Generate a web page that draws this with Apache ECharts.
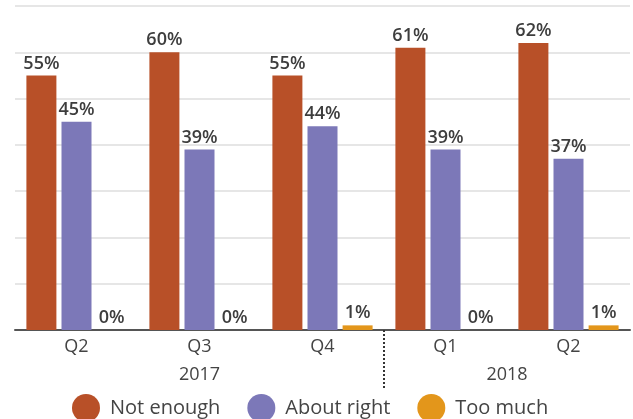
<!DOCTYPE html>
<html>
<head>
<meta charset="utf-8">
<script src="https://cdn.jsdelivr.net/npm/echarts@6/dist/echarts.min.js"></script>
<style>
  html, body { margin: 0; padding: 0; background: #fff; }
  #main { width: 633px; height: 419px; }
</style>
</head>
<body>
<div id="main"></div>
<script>
// 数据
var quarters = ['Q2', 'Q3', 'Q4', 'Q1', 'Q2'];
var yearSlots = ['', '', '', '2017', '', '', '', '', '2018', '', ''];
var notEnough = [55, 60, 55, 61, 62];
var aboutRight = [45, 39, 44, 39, 37];
var tooMuch = [0, 0, 1, 0, 1];

var myChart = echarts.init(document.getElementById('main'));

var labelStyle = {
    show: true,
    position: 'top',
    distance: 3,
    formatter: '{c}%',
    color: '#3d3d3d',
    fontSize: 18,
    fontWeight: 600,
    fontFamily: 'Open Sans'
};

var option = {
    animation: false,
    color: ['#b85028', '#7c78b8', '#e3961b'],
    textStyle: { fontFamily: 'Open Sans' },
    grid: { left: 15, right: 0, top: 6, bottom: 89 },
    legend: {
        left: 67,
        top: 389,
        icon: 'circle',
        itemWidth: 28,
        itemHeight: 28,
        itemGap: 27,
        textStyle: { color: '#444', fontSize: 20, padding: [0, 0, 0, 5] },
        data: ['Not enough', 'About right', 'Too much']
    },
    xAxis: [
        {
            type: 'category',
            position: 'bottom',
            data: quarters,
            axisLine: { lineStyle: { color: '#555', width: 2 } },
            axisTick: { show: false },
            axisLabel: { color: '#444', fontSize: 18, margin: 8 }
        },
        {
            type: 'category',
            position: 'bottom',
            boundaryGap: false,
            data: yearSlots,
            axisLine: { show: false },
            axisTick: {
                show: true,
                length: 58,
                interval: function (index) { return index === 6; },
                lineStyle: { color: '#333', width: 2, type: 'dotted' }
            },
            axisLabel: { color: '#444', fontSize: 18, margin: 36, interval: 0 }
        }
    ],
    yAxis: {
        type: 'value',
        min: 0,
        max: 70,
        interval: 10,
        axisLabel: { show: false },
        axisLine: { show: false },
        axisTick: { show: false },
        splitLine: { lineStyle: { color: '#e6e6e6', width: 2 } }
    },
    series: [
        { name: 'Not enough', type: 'bar', barWidth: 30, barGap: '17%', label: labelStyle, data: notEnough },
        { name: 'About right', type: 'bar', barWidth: 30, barGap: '17%', label: labelStyle, data: aboutRight },
        { name: 'Too much', type: 'bar', barWidth: 30, barGap: '17%', label: labelStyle, data: tooMuch }
    ]
};

myChart.setOption(option);
</script>
</body>
</html>
